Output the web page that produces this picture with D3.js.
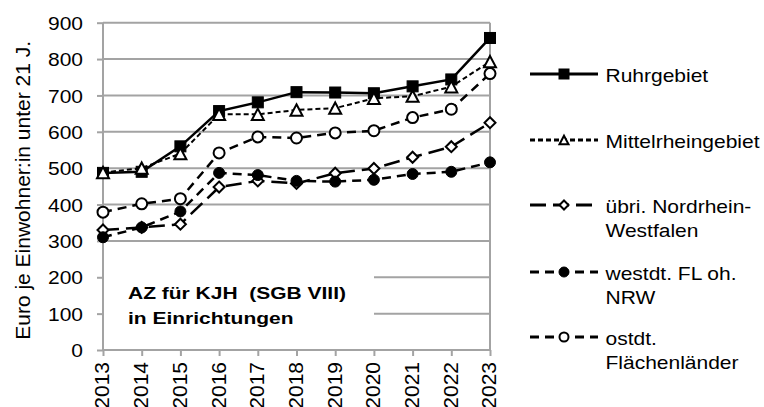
<!DOCTYPE html>
<html>
<head>
<meta charset="utf-8">
<script src="https://cdn.jsdelivr.net/npm/d3@7"></script>
<style>
  body { margin: 0; background: #fff; }
  svg { font-family: "Liberation Sans", Arial, sans-serif; }
</style>
</head>
<body>
<div id="chart"></div>
<script>
var years = ["2013", "2014", "2015", "2016", "2017", "2018", "2019", "2020", "2021", "2022", "2023"];
var yTicks = [0, 100, 200, 300, 400, 500, 600, 700, 800, 900];

var ruhrgebiet = [487, 490, 560, 657, 681, 709, 708, 706, 725, 744, 858];
var mittelrhein = [488, 500, 540, 648, 648, 660, 665, 692, 698, 724, 793];
var uebriNrw = [330, 337, 346, 448, 465, 458, 486, 499, 530, 559, 625];
var westdtFl = [310, 337, 381, 487, 481, 465, 463, 468, 484, 490, 516];
var ostdtFl = [379, 402, 416, 542, 586, 583, 597, 603, 639, 662, 760];

var seriesNames = [["Ruhrgebiet"], ["Mittelrheingebiet"], ["übri. Nordrhein-", "Westfalen"], ["westdt. FL oh.", "NRW"], ["ostdt.", "Flächenländer"]];

var width = 764, height = 407;
var plotLeft = 103, plotRight = 490, plotTop = 22.7, plotBottom = 350;
var gridColor = "#a3a3a3";
var squash = 0.87;

var svg = d3.select("#chart").append("svg")
    .attr("width", width)
    .attr("height", height);

var x = d3.scalePoint().domain(years).range([plotLeft, plotRight]);
var y = d3.scaleLinear().domain([0, 900]).range([plotBottom, plotTop]);

// gridlines
svg.append("g")
    .selectAll("line")
    .data(yTicks.filter(d => d > 0))
    .enter().append("line")
    .attr("x1", plotLeft).attr("x2", plotRight)
    .attr("y1", d => y(d)).attr("y2", d => y(d))
    .attr("stroke", gridColor)
    .attr("stroke-width", 2);

// right border
svg.append("line")
    .attr("x1", plotRight).attr("x2", plotRight)
    .attr("y1", plotTop).attr("y2", plotBottom)
    .attr("stroke", gridColor).attr("stroke-width", 2);

// title box covers gridlines
svg.append("rect")
    .attr("x", plotLeft + 1).attr("y", 258)
    .attr("width", 270).attr("height", plotBottom - 259)
    .attr("fill", "#fff");

var title = svg.append("g").attr("font-weight", "bold").attr("font-size", 21).attr("fill", "#000");
title.append("text")
    .attr("transform", "translate(128,299) scale(1,0.82)")
    .style("white-space", "pre")
    .text("AZ für KJH  (SGB VIII)");
title.append("text")
    .attr("transform", "translate(128,323.5) scale(1,0.82)")
    .text("in Einrichtungen");

// y axis
var yAxis = svg.append("g")
    .attr("transform", "translate(" + plotLeft + ",0)")
    .call(d3.axisLeft(y).tickValues(yTicks).tickSize(6).tickPadding(14));
yAxis.select(".domain").attr("stroke", gridColor).attr("stroke-width", 2).attr("d", "M0," + plotTop + "V" + plotBottom);
yAxis.selectAll(".tick line").attr("stroke", gridColor).attr("stroke-width", 2);
yAxis.selectAll(".tick text")
    .attr("font-size", 21)
    .attr("font-family", "Liberation Sans, Arial, sans-serif")
    .attr("fill", "#000")
    .attr("dy", "0.36em")
    .attr("transform", "scale(1," + squash + ")");

// x axis (labels run off the bottom edge, as in the original)
var xAxis = svg.append("g")
    .attr("transform", "translate(0," + plotBottom + ")")
    .call(d3.axisBottom(x).tickSize(6).tickPadding(0));
xAxis.select(".domain").attr("stroke", gridColor).attr("stroke-width", 2).attr("d", "M" + plotLeft + ",0H" + plotRight);
xAxis.selectAll(".tick line").attr("stroke", gridColor).attr("stroke-width", 2);
xAxis.selectAll(".tick text")
    .attr("font-size", 21)
    .attr("font-family", "Liberation Sans, Arial, sans-serif")
    .attr("fill", "#000")
    .attr("text-anchor", "end")
    .attr("x", 0).attr("y", 0).attr("dy", "0.33em")
    .attr("transform", "translate(-1,12) rotate(-90)");

// y title
svg.append("text")
    .attr("transform", "translate(29.5," + ((plotTop + plotBottom) / 2 + 4) + ") rotate(-90)")
    .attr("text-anchor", "middle")
    .attr("font-size", 21)
    .text("Euro je Einwohner:in unter 21 J.");

// markers
function drawMarker(g, type, cx, cy, s) {
    if (type == "square") {
        g.append("rect").attr("x", cx - s / 2).attr("y", cy - s / 2).attr("width", s).attr("height", s)
            .attr("fill", "#000").attr("stroke", "#000").attr("stroke-width", 1);
    } else if (type == "triangle") {
        var h = s * 0.95;
        g.append("path")
            .attr("d", "M" + cx + "," + (cy - h / 2) + "L" + (cx + s / 2) + "," + (cy + h / 2) + "L" + (cx - s / 2) + "," + (cy + h / 2) + "Z")
            .attr("fill", "#fff").attr("stroke", "#000").attr("stroke-width", 2);
    } else if (type == "diamond") {
        var r = s / 2;
        g.append("path")
            .attr("d", "M" + cx + "," + (cy - r) + "L" + (cx + r) + "," + cy + "L" + cx + "," + (cy + r) + "L" + (cx - r) + "," + cy + "Z")
            .attr("fill", "#fff").attr("stroke", "#000").attr("stroke-width", 2);
    } else if (type == "dot") {
        g.append("circle").attr("cx", cx).attr("cy", cy).attr("r", s / 2)
            .attr("fill", "#000").attr("stroke", "#000").attr("stroke-width", 1);
    } else {
        g.append("circle").attr("cx", cx).attr("cy", cy).attr("r", s / 2)
            .attr("fill", "#fff").attr("stroke", "#000").attr("stroke-width", 2);
    }
}

var series = [
    { values: ruhrgebiet, marker: "square", dash: null, w: 2.5, size: 11, lsize: 10 },
    { values: mittelrhein, marker: "triangle", dash: "5,3", w: 2, size: 12, lsize: 9 },
    { values: uebriNrw, marker: "diamond", dash: "16,7", w: 2.5, size: 11, lsize: 9 },
    { values: westdtFl, marker: "dot", dash: "9,6", w: 2.5, size: 11, lsize: 10 },
    { values: ostdtFl, marker: "circle", dash: "9,6", w: 2.5, size: 11, lsize: 9 }
];

var line = d3.line()
    .x((d, i) => x(years[i]))
    .y(d => y(d));

series.forEach((s, si) => {
    var g = svg.append("g");
    g.append("path")
        .attr("d", line(s.values))
        .attr("fill", "none")
        .attr("stroke", "#000")
        .attr("stroke-width", s.w)
        .attr("stroke-dasharray", s.dash);
    s.values.forEach((v, i) => drawMarker(g, s.marker, x(years[i]), y(v), s.size));
});

// legend
var legendY = [74, 140, 205, 272, 337];
series.forEach((s, si) => {
    var g = svg.append("g").attr("transform", "translate(0," + legendY[si] + ")");
    g.append("line")
        .attr("x1", 530).attr("x2", 598).attr("y1", 0).attr("y2", 0)
        .attr("stroke", "#000").attr("stroke-width", 3)
        .attr("stroke-dasharray", s.dash);
    drawMarker(g, s.marker, 564, 0, s.lsize);
    seriesNames[si].forEach((t, ti) => {
        g.append("text")
            .attr("transform", "translate(605.5," + (7.5 + ti * 24.7) + ") scale(1," + squash + ")")
            .attr("font-size", 21)
            .text(t);
    });
});
</script>
</body>
</html>
